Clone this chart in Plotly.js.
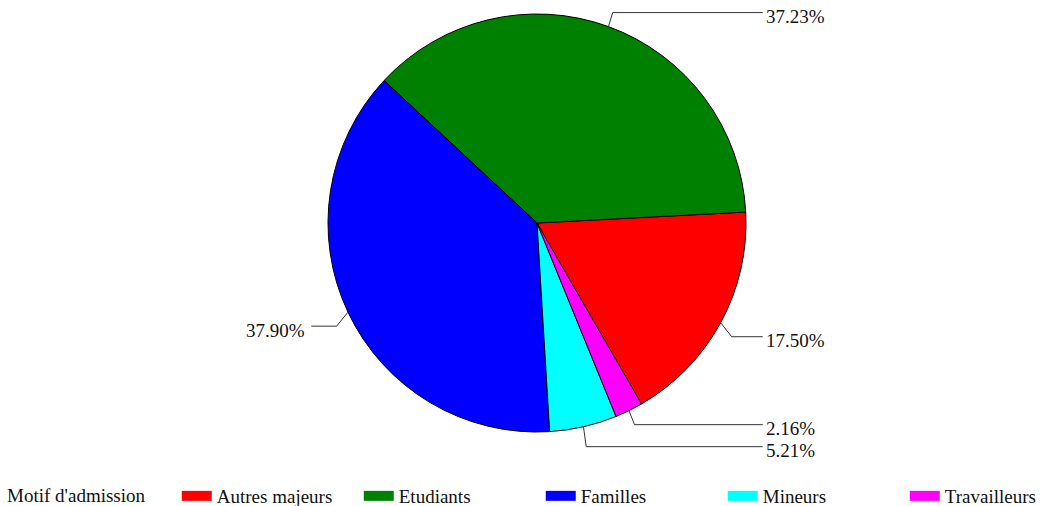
<!DOCTYPE html>
<html>
<head>
<meta charset="utf-8">
<script src="https://cdn.plot.ly/plotly-3.0.1.min.js"></script>
<style>html,body{margin:0;padding:0;background:#fff;}#chart{width:1040px;height:506px;}</style>
</head>
<body>
<div id="chart"></div>
<script>
// Data
const categories = ["Autres majeurs", "Etudiants", "Familles", "Mineurs", "Travailleurs"];
const shares = [17.50, 37.23, 37.90, 5.21, 2.16];
const colors = ["#ff0000", "#008000", "#0000ff", "#00ffff", "#ff00ff"];
const legendTitle = "Motif d'admission";

// Layout geometry
const W = 1040, H = 506;
const M = {l: 34, r: 0, t: 14, b: 74};
const plotW = W - M.l - M.r, plotH = H - M.t - M.b;
const R = Math.min(plotW, plotH) / 2;
const cx = M.l + plotW / 2, cy = M.t + plotH / 2;
const rotation = 87;
const FONT = "Liberation Serif, Times New Roman, serif";
const TXT = "#111";

const px = x => (x - M.l) / plotW;
const py = y => (M.t + plotH - y) / plotH;

// compute mid angles (counterclockwise, same convention as plotly)
const total = shares.reduce((a, b) => a + b, 0);
const k = 360 / total;
let cur = rotation + shares[0] * k;
const labels = [];
shares.forEach((v, i) => {
  const a0 = cur, a1 = cur - v * k;
  cur = a1;
  const m = (a0 + a1) / 2 * Math.PI / 180;
  const sx = Math.sin(m), sy = -Math.cos(m);
  const ex = cx + R * sx, ey = cy + R * sy;
  labels.push({
    i, text: v.toFixed(2) + "%",
    ex, ey,
    kx: cx + 1.06 * R * sx, ky: ey + Math.sign(sy) * 14,
    right: sx >= 0
  });
});
// avoid overlap on each side
const minGap = 22;
[true, false].forEach(side => {
  const grp = labels.filter(l => l.right === side).sort((a, b) => a.ky - b.ky);
  for (let j = 1; j < grp.length; j++) {
    if (grp[j].ky - grp[j - 1].ky < minGap) grp[j].ky = grp[j - 1].ky + minGap;
  }
});
const shapes = [], annotations = [];
labels.forEach(l => {
  const hx = l.right ? cx + 1.08 * R : cx - 1.08 * R;
  shapes.push({
    type: "path", xref: "paper", yref: "paper",
    path: `M ${px(l.ex)} ${py(l.ey)} L ${px(l.kx)} ${py(l.ky)} L ${px(hx)} ${py(l.ky)}`,
    line: {color: "#333", width: 1}
  });
  annotations.push({
    xref: "paper", yref: "paper",
    x: px(l.right ? hx + 1 : hx - 4), y: py(l.ky + 4),
    xanchor: l.right ? "left" : "right", yanchor: "middle",
    text: l.text, showarrow: false,
    font: {family: FONT, size: 19, color: TXT}
  });
});

const pie = {
  type: "pie",
  labels: categories,
  values: shares,
  sort: false,
  direction: "counterclockwise",
  rotation: rotation,
  textinfo: "none",
  showlegend: false,
  marker: {colors: colors, line: {color: "#000", width: 1}},
  hoverinfo: "label+percent"
};
// legend entries (wide colour keys)
const keys = categories.map((c, i) => ({
  type: "scatter", mode: "lines", x: [null], y: [null],
  name: c, line: {color: colors[i], width: 12},
  showlegend: true, hoverinfo: "skip"
}));

const layout = {
  width: W, height: H,
  margin: {l: M.l, r: M.r, t: M.t, b: M.b, autoexpand: false},
  paper_bgcolor: "#fff", plot_bgcolor: "rgba(0,0,0,0)",
  font: {family: FONT, size: 19, color: TXT},
  xaxis: {visible: false}, yaxis: {visible: false},
  showlegend: true,
  legend: {
    orientation: "h",
    x: px(5), xanchor: "left",
    y: py(496), yanchor: "middle",
    entrywidth: 137, entrywidthmode: "pixels",
    title: {text: legendTitle + "\u00a0\u00a0\u00a0\u00a0\u00a0", side: "left", font: {family: FONT, size: 19, color: TXT}},
    font: {family: FONT, size: 19, color: TXT},
    traceorder: "normal"
  },
  shapes: shapes,
  annotations: annotations
};

Plotly.newPlot("chart", [pie].concat(keys), layout, {displayModeBar: false, staticPlot: true});
</script>
</body>
</html>
